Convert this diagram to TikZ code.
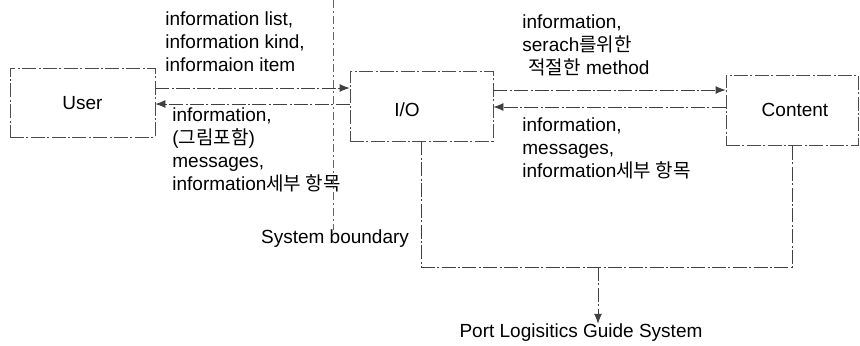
\documentclass[tikz,border=0pt]{standalone}
\usepackage{fontspec}
\usetikzlibrary{arrows.meta}
\setmainfont{Liberation Sans}
\newfontfamily\kr{Noto Sans CJK KR}
\tikzset{
  block/.style={draw=black!70, thin, dash pattern=on 7pt off 1.2pt on 1pt off 1.2pt, inner sep=0pt},
  flow/.style={draw=black!75, thin, dash pattern=on 7pt off 1.2pt on 1pt off 1.2pt, -{Latex[length=5pt,width=4pt]}},
  link/.style={draw=black!75, thin, dash pattern=on 7pt off 1.2pt on 1pt off 1.2pt},
  border/.style={draw=black!60, thin, dash pattern=on 4pt off 1.5pt on 1pt off 1.5pt},
  note/.style={align=left, inner sep=0pt, anchor=north west, font=\fontsize{9.5}{11.5}\selectfont},
  title/.style={inner sep=0pt, font=\fontsize{9.5}{11.5}\selectfont}
}
\begin{document}
\begin{tikzpicture}[x=0.5pt,y=0.5pt,yscale=-1,xscale=1]
\useasboundingbox (0,0) rectangle (860,345);

% boxes
\node[block, minimum width=72.5pt, minimum height=34.5pt] (user) at (82.5,102.5) {};
\node[title] at (82.5,103) {User};
\node[block, minimum width=71.5pt, minimum height=35pt] (io) at (421.5,106) {};
\node[title] at (407,110) {I/O};
\node[block, minimum width=66pt, minimum height=35pt] (content) at (792,110) {};
\node[title] at (795,110) {Content};

% user - io
\draw[flow] (user.east |- 0,88) -- (io.west |- 0,88);
\draw[flow] (io.west |- 0,104) -- (user.east |- 0,104);
\node[note] (ask) at (165,11) {information list,\\information kind,\\informaion item};
\node[note] (reply) at (172,107) {information,\\({\kr 그림포함})\\messages,\\information{\kr 세부 항목}};

% io - content
\draw[flow] (io.east |- 0,90) -- (content.west |- 0,90);
\draw[flow] (content.west |- 0,107) -- (io.east |- 0,107);
\node[note] (query) at (522,14) {information,\\serach{\kr 를위한}\\\hspace*{3pt}{\kr 적절한} method};
\node[note] (answer) at (522,117) {information,\\messages,\\information{\kr 세부 항목}};

% system boundary
\coordinate (edge) at (333,0);
\node[title] (sysb) at (335,239) {System boundary};
\draw[border] (edge) -- (sysb.north -| edge);

% whole system
\coordinate (joint) at (598,267);
\node[title] (port) at (581,333) {Port Logisitics Guide System};
\draw[link] (io.south) -- (io.south |- joint) -- (content.south |- joint) -- (content.south);
\draw[flow] (joint) -- (joint |- port.north);

\end{tikzpicture}
\end{document}
